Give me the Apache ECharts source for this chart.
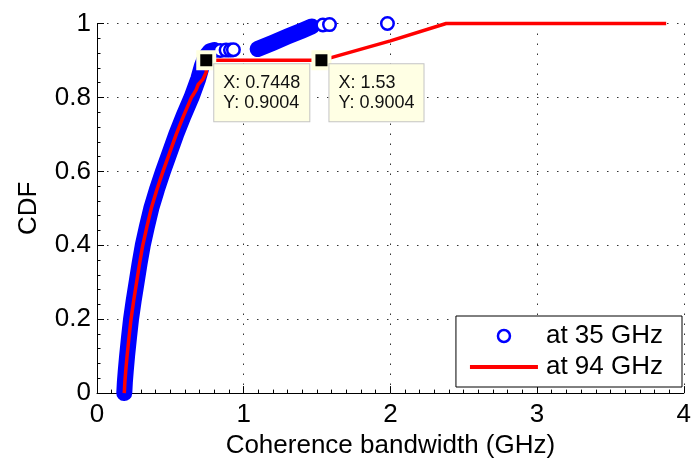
<!DOCTYPE html>
<html>
<head>
<meta charset="utf-8">
<script src="https://cdn.jsdelivr.net/npm/echarts@6/dist/echarts.min.js"></script>
<style>
  html, body { margin: 0; padding: 0; background: #fff; }
  #chart { width: 694px; height: 464px; }
</style>
</head>
<body>
<div id="chart"></div>
<script>
// CDF of coherence bandwidth at 35 GHz and 94 GHz

const xTicks = [0, 1, 2, 3, 4];
const yTicks = [0, 0.2, 0.4, 0.6, 0.8, 1];

// 35 GHz samples: two densely packed stretches, plus isolated samples
const bw35RunA  = [0.186, 0.19, 0.196, 0.205, 0.218, 0.232, 0.25, 0.27, 0.29, 0.312, 0.34, 0.37, 0.408, 0.45, 0.495, 0.54, 0.59, 0.644, 0.69, 0.715, 0.74, 0.77, 0.8];
const cdf35RunA = [0, 0.03, 0.06, 0.1, 0.15, 0.2, 0.25, 0.3, 0.35, 0.4, 0.45, 0.5, 0.55, 0.6, 0.65, 0.7, 0.75, 0.8, 0.85, 0.885, 0.91, 0.925, 0.928];
const bw35RunB  = [1.095, 1.2, 1.3, 1.4, 1.465];
const cdf35RunB = [0.931, 0.948, 0.965, 0.981, 0.992];
const bw35Single  = [0.84, 0.88, 0.91, 0.93, 1.54, 1.585, 1.98];
const cdf35Single = [0.927, 0.928, 0.928, 0.929, 0.996, 0.997, 1.0];

// 94 GHz
const bw94  = [0.186, 0.19, 0.196, 0.205, 0.218, 0.232, 0.25, 0.27, 0.29, 0.312, 0.34, 0.37, 0.408, 0.45, 0.495, 0.54, 0.59, 0.644, 0.66, 0.675, 0.69, 0.72, 0.735, 0.7448, 0.7448, 1.53, 2.0, 2.38, 3.88];
const cdf94 = [0, 0.03, 0.06, 0.1, 0.15, 0.2, 0.25, 0.3, 0.35, 0.4, 0.45, 0.5, 0.55, 0.6, 0.65, 0.7, 0.75, 0.8, 0.81, 0.82, 0.835, 0.848, 0.86, 0.868, 0.9004, 0.9004, 0.953, 1, 1];

// Data tips on the 94 GHz curve
const tipX = [0.7448, 1.53];
const tipY = [0.9004, 0.9004];

const NAME35 = 'at 35 GHz';
const NAME94 = 'at 94 GHz';
const BLUE = '#0000ff';
const RED = '#ff0000';
const FONT = '"Liberation Sans", Arial, Helvetica, sans-serif';

const pairs = (xs, ys) => xs.map((x, i) => [x, ys[i]]);

const gridLine = { show: true, lineStyle: { color: '#333', width: 1, type: [1.5, 8.5] } };

const chart = echarts.init(document.getElementById('chart'), null, { renderer: 'canvas' });
chart.setOption({
  animation: false,
  backgroundColor: '#fff',
  textStyle: { fontFamily: FONT },
  grid: { left: 97, right: 10, top: 23.5, bottom: 67, containLabel: false },
  xAxis: {
    type: 'value',
    min: xTicks[0], max: xTicks[xTicks.length - 1], interval: xTicks[1] - xTicks[0],
    name: 'Coherence bandwidth (GHz)', nameLocation: 'middle', nameGap: 37,
    nameTextStyle: { fontSize: 26, color: '#000', fontFamily: FONT },
    axisLine: { show: true, onZero: false, lineStyle: { color: '#000', width: 1 } },
    axisTick: { show: true, inside: true, length: 7, lineStyle: { color: '#000' } },
    minorTick: { show: true, splitNumber: 10, length: 3.5, lineStyle: { color: '#000' } },
    axisLabel: { fontSize: 26, color: '#000', margin: 9, fontFamily: FONT },
    splitLine: gridLine
  },
  yAxis: {
    type: 'value',
    min: yTicks[0], max: yTicks[yTicks.length - 1], interval: yTicks[1] - yTicks[0],
    name: 'CDF', nameLocation: 'middle', nameGap: 55,
    nameTextStyle: { fontSize: 26, color: '#000', fontFamily: FONT },
    axisLine: { show: true, onZero: false, lineStyle: { color: '#000', width: 1 } },
    axisTick: { show: true, inside: true, length: 7, lineStyle: { color: '#000' } },
    minorTick: { show: true, splitNumber: 5, length: 3.5, lineStyle: { color: '#000' } },
    axisLabel: { fontSize: 26, color: '#000', margin: 6, fontFamily: FONT },
    splitLine: gridLine
  },
  legend: {
    orient: 'vertical',
    right: 12, bottom: 77,
    backgroundColor: '#fff',
    borderColor: '#000', borderWidth: 1, borderRadius: 0,
    padding: [6, 19, 6, 14],
    itemWidth: 68, itemHeight: 12, itemGap: 3,
    selectedMode: false,
    textStyle: { fontSize: 26, lineHeight: 28, color: '#000', fontFamily: FONT, padding: [0, 0, 0, 3] },
    data: [
      { name: NAME35, icon: 'circle', itemStyle: { color: '#fff', borderColor: BLUE, borderWidth: 2.5 } },
      { name: NAME94, icon: 'path://M0,0H68V4H0Z', itemStyle: { color: RED } }
    ]
  },
  series: [
    {
      name: NAME35, type: 'line', data: pairs(bw35RunA, cdf35RunA),
      symbol: 'none', clip: false, z: 2, color: BLUE,
      lineStyle: { color: BLUE, width: 16, cap: 'round', join: 'round' }
    },
    {
      name: NAME35, type: 'line', data: pairs(bw35RunB, cdf35RunB),
      symbol: 'none', clip: false, z: 2, color: BLUE,
      lineStyle: { color: BLUE, width: 16, cap: 'round', join: 'round' }
    },
    {
      name: NAME35, type: 'scatter', data: pairs(bw35Single, cdf35Single),
      symbol: 'circle', symbolSize: 12.5, clip: false, z: 2,
      itemStyle: { color: '#fff', borderColor: BLUE, borderWidth: 2.5, opacity: 1 }
    },
    {
      name: NAME94, type: 'line', data: pairs(bw94, cdf94),
      symbol: 'none', clip: false, z: 3, color: RED,
      lineStyle: { color: RED, width: 3.5, join: 'round' }
    },
    {
      name: 'tips', type: 'scatter', data: pairs(tipX, tipY),
      symbol: 'rect', symbolSize: 16, z: 5, clip: false,
      itemStyle: { color: '#000', borderColor: '#ffffe0', borderWidth: 4, opacity: 1 },
      label: {
        show: true,
        position: [18, 14],
        formatter: p => 'X: ' + p.value[0] + '\nY: ' + p.value[1],
        fontSize: 18, lineHeight: 20, color: '#111', fontFamily: FONT,
        backgroundColor: '#ffffe4', borderColor: '#c4c4c4', borderWidth: 1,
        padding: [9, 9, 8, 9]
      },
      emphasis: { disabled: true }
    }
  ]
});
</script>
</body>
</html>
